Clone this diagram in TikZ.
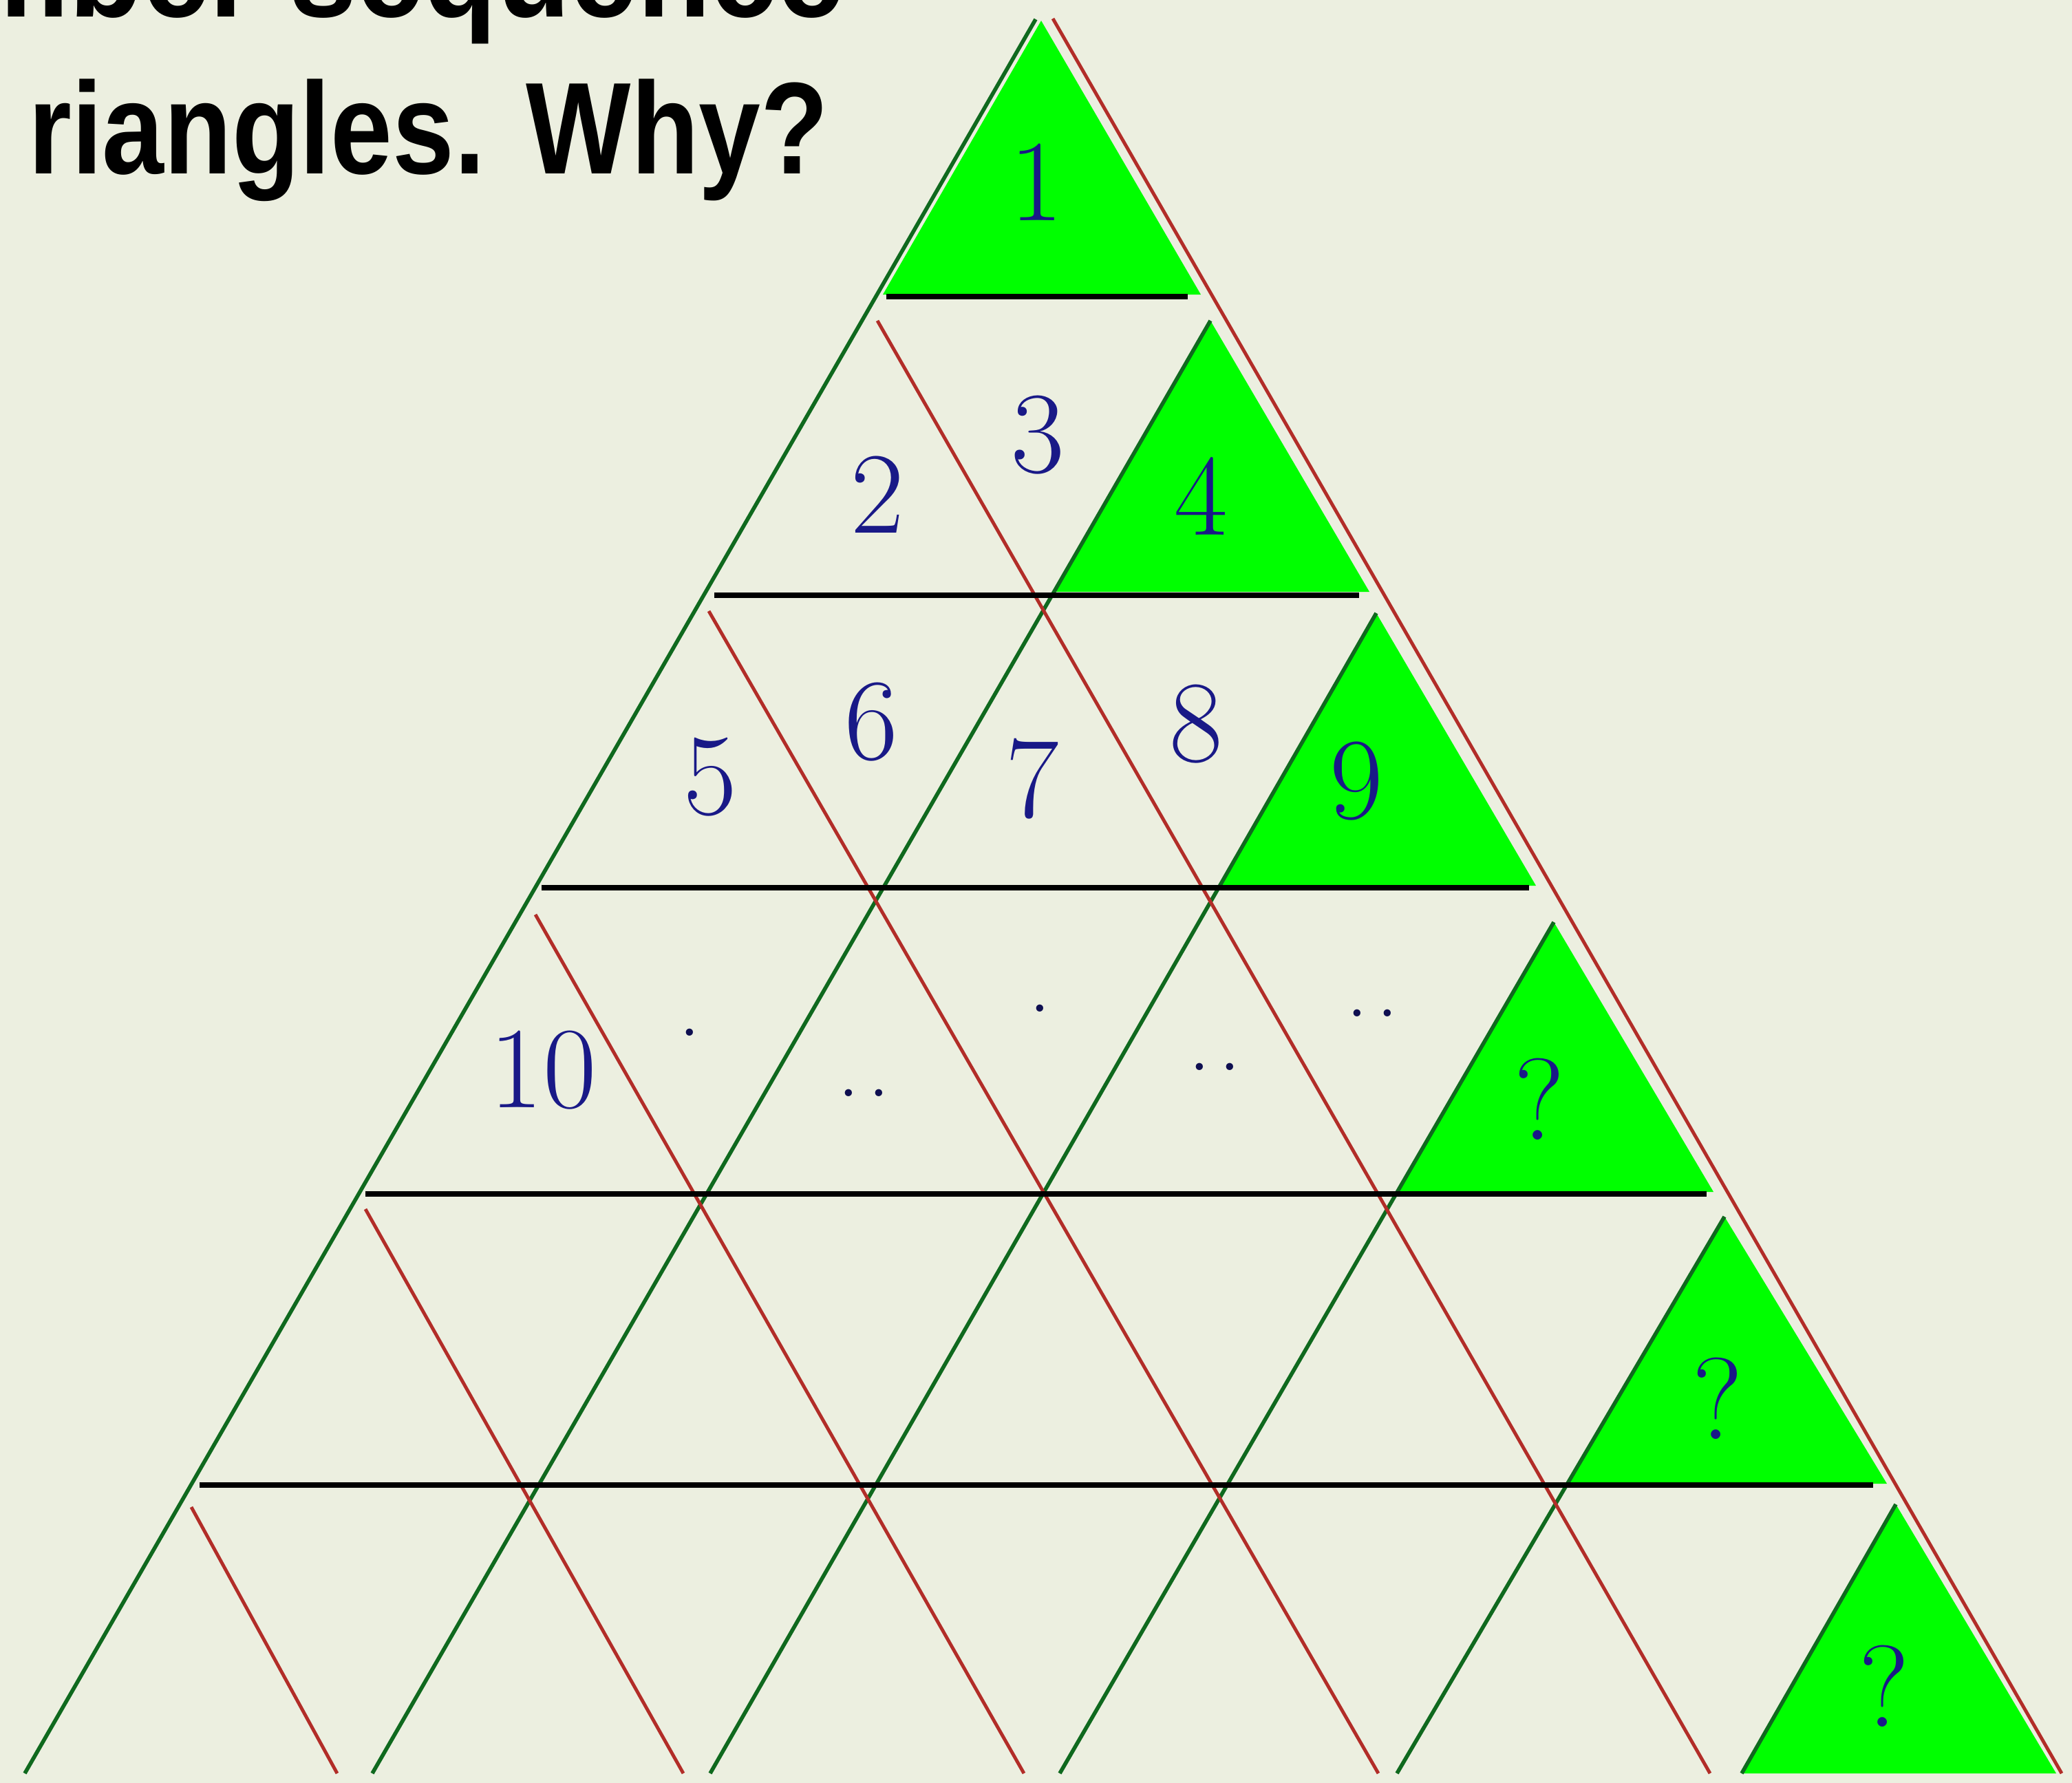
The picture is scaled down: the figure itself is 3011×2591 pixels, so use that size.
\documentclass[tikz,border=0pt]{standalone}
\usepackage{fontspec}
\newfontfamily\headfont[FakeStretch=0.85]{Liberation Sans}
\newfontfamily\headfontwide[FakeStretch=0.92]{Liberation Sans}
\usepackage{tikz}
\definecolor{paper}{RGB}{236,239,224}
\definecolor{gridgreen}{RGB}{15,105,30}
\definecolor{gridred}{RGB}{178,45,40}
\definecolor{cellgreen}{RGB}{0,255,0}
\definecolor{numblue}{RGB}{25,25,135}
\tikzset{
  greenline/.style={draw=gridgreen,line width=1.6pt},
  redline/.style={draw=gridred,line width=1.4pt},
  rowline/.style={draw=black,line width=2.2pt},
  greencell/.style={fill=cellgreen},
  numlabel/.style={text=numblue,inner sep=0pt,font=\fontsize{48}{58}\selectfont},
  dotlabel/.style={text=numblue!60!black,inner sep=0pt,font=\fontsize{36}{42}\selectfont},
  headline/.style={anchor=base east,inner sep=0pt,font=\headfont\bfseries\fontsize{54}{64}\selectfont},
}

\begin{document}
\begin{tikzpicture}[x=0.01cm,y=-0.01cm]
  \useasboundingbox (0,0) rectangle (3011,2591);
  \fill[paper] (0,0) rectangle (3011,2591);
  \clip (0,0) rectangle (3011,2591);
  \fill[greencell] (1513,30) -- (1283,428) -- (1745,428) -- cycle;
  \fill[greencell] (1759,466) -- (1533,860) -- (1990,860) -- cycle;
  \fill[greencell] (2000,891) -- (1771,1287) -- (2232,1287) -- cycle;
  \fill[greencell] (2258,1340) -- (2030,1732) -- (2490,1732) -- cycle;
  \fill[greencell] (2506,1768) -- (2280,2156) -- (2742,2156) -- cycle;
  \fill[greencell] (2755,2186) -- (2531,2577) -- (2988,2577) -- cycle;
  \draw[greenline] (36,2577) -- (1505,28);
  \draw[greenline] (541,2577) -- (1759,466);
  \draw[greenline] (1032,2577) -- (2000,891);
  \draw[greenline] (1540,2577) -- (2258,1340);
  \draw[greenline] (2030,2577) -- (2506,1768);
  \draw[greenline] (2531,2577) -- (2755,2186);
  \draw[redline] (1530,27) -- (2996,2577);
  \draw[redline] (1275,466) -- (2485,2577);
  \draw[redline] (1030,888) -- (2003,2577);
  \draw[redline] (778,1329) -- (1488,2577);
  \draw[redline] (531,1757) -- (993,2577);
  \draw[redline] (278,2190) -- (490,2577);
  \draw[rowline] (1288,431) -- (1726,431);
  \draw[rowline] (1038,865) -- (1975,865);
  \draw[rowline] (787,1290) -- (2222,1290);
  \draw[rowline] (531,1735) -- (2480,1735);
  \draw[rowline] (290,2158) -- (2722,2158);
  \node[numlabel] (n1) at (1506,265) {1};
  \node[numlabel] (n2) at (1275,719) {2};
  \node[numlabel] (n3) at (1508,632) {3};
  \node[numlabel] (n4) at (1745,721) {4};
  \node[numlabel] (n5) at (1032,1129) {5};
  \node[numlabel] (n6) at (1266,1049) {6};
  \node[numlabel] (n7) at (1500,1132) {7};
  \node[numlabel] (n8) at (1738,1052) {8};
  \node[numlabel] (n9) at (1971,1135) {9};
  \node[numlabel] (n10) at (789,1555) {10};
  \node[dotlabel] (d1) at (1002,1500) {.};
  \node[dotlabel] (d2) at (1255,1588) {.\kern0.1em.};
  \node[dotlabel] (d3) at (1511,1465) {.};
  \node[dotlabel] (d4) at (1765,1550) {.\kern0.1em.};
  \node[dotlabel] (d5) at (1994,1472) {.\kern0.1em.};
  \node[numlabel] (q1) at (2237,1597) {?};
  \node[numlabel] (q2) at (2496,2032) {?};
  \node[numlabel] (q3) at (2738,2450) {?};
  \node[headline,font=\headfontwide\bfseries\fontsize{54}{64}\selectfont] (head1) at (1228,25) {mber sequence};
  \node[headline] (head2) at (1205,253) {riangles. Why?};
\end{tikzpicture}
\end{document}
